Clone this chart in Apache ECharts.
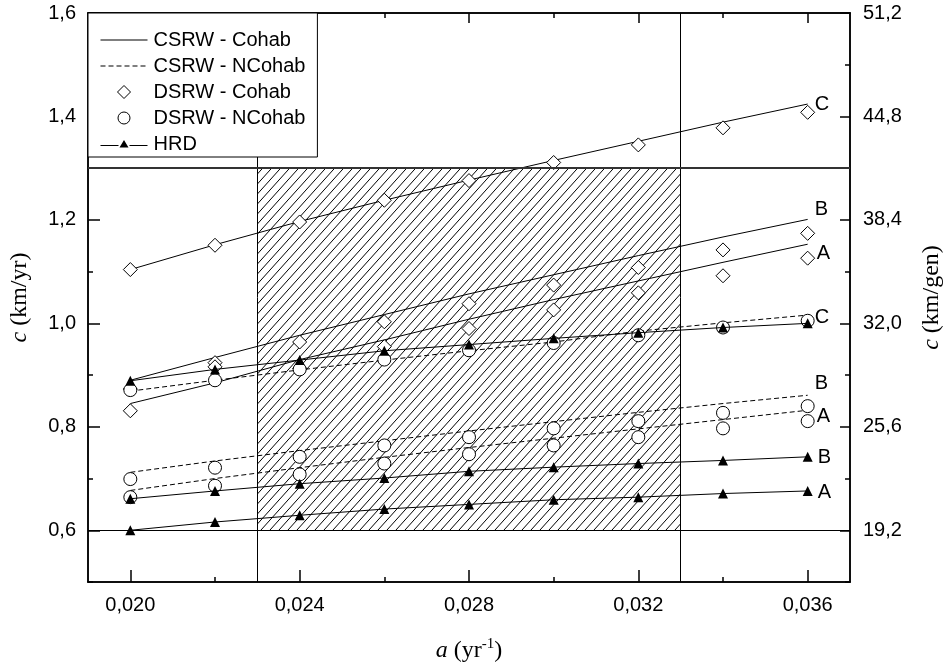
<!DOCTYPE html>
<html>
<head>
<meta charset="utf-8">
<title>Wave speed c versus a</title>
<script src="https://cdn.jsdelivr.net/npm/echarts@6/dist/echarts.min.js"></script>
<style>
  html, body { margin: 0; padding: 0; background: #fff; }
  #chart { width: 952px; height: 671px; }
</style>
</head>
<body>
<div id="chart"></div>
<script>
// Growth rate a (yr^-1) at which each model was evaluated
const aValues = [0.020, 0.022, 0.024, 0.026, 0.028, 0.030, 0.032, 0.034, 0.036];

// CSRW - Cohab (continuous curves, solid)
const csrwCohabA = [0.845, 0.885, 0.930, 0.968, 1.008, 1.046, 1.082, 1.118, 1.153];
const csrwCohabB = [0.890, 0.934, 0.977, 1.017, 1.057, 1.094, 1.131, 1.167, 1.201];
const csrwCohabC = [1.104, 1.152, 1.197, 1.238, 1.277, 1.315, 1.352, 1.389, 1.424];

// CSRW - NCohab (continuous curves, dashed)
const csrwNCohabA = [0.677, 0.700, 0.721, 0.741, 0.760, 0.778, 0.796, 0.814, 0.832];
const csrwNCohabB = [0.712, 0.734, 0.754, 0.773, 0.792, 0.810, 0.828, 0.845, 0.861];
const csrwNCohabC = [0.869, 0.890, 0.910, 0.929, 0.947, 0.964, 0.985, 1.001, 1.016];

// DSRW - Cohab (diamonds)
const dsrwCohabA = [0.831, 0.916, 0.913, 0.955, 0.990, 1.026, 1.059, 1.092, 1.126];
const dsrwCohabB = [0.873, 0.924, 0.964, 1.003, 1.038, 1.074, 1.108, 1.142, 1.174];
const dsrwCohabC = [1.104, 1.151, 1.196, 1.238, 1.276, 1.311, 1.345, 1.378, 1.408];

// DSRW - NCohab (circles)
const dsrwNCohabA = [0.664, 0.686, 0.708, 0.729, 0.747, 0.764, 0.780, 0.797, 0.811];
const dsrwNCohabB = [0.699, 0.721, 0.742, 0.764, 0.780, 0.797, 0.811, 0.827, 0.840];
const dsrwNCohabC = [0.871, 0.890, 0.911, 0.930, 0.948, 0.962, 0.977, 0.992, 1.005];

// HRD (line with filled triangles)
const hrdA = [0.600, 0.616, 0.629, 0.641, 0.650, 0.659, 0.664, 0.671, 0.676];
const hrdB = [0.661, 0.676, 0.690, 0.701, 0.714, 0.722, 0.729, 0.735, 0.742];
const hrdC = [0.889, 0.911, 0.929, 0.947, 0.959, 0.971, 0.982, 0.992, 1.000];

// Shaded range of plausible parameters
const shadedA = [0.023, 0.033];
const shadedC = [0.6, 1.3];

// Axis ranges and ticks
const xRange = [0.019, 0.037];
const xMajor = [0.020, 0.024, 0.028, 0.032, 0.036];
const xMinor = [0.022, 0.026, 0.030, 0.034];
const cRange = [0.5, 1.6];
const cMajor = [0.6, 0.8, 1.0, 1.2, 1.4, 1.6];
const cMinor = [0.5, 0.7, 0.9, 1.1, 1.3, 1.5];
const genPerYear = 32;
const genMajor = [19.2, 25.6, 32.0, 38.4, 44.8, 51.2];
const genMinor = [16.0, 22.4, 28.8, 35.2, 41.6, 48.0];

const SANS = "'Liberation Sans', Arial, sans-serif";
const SERIF = "'Liberation Serif', 'Times New Roman', serif";
const BLACK = '#000';

const pairs = ys => aValues.map((a, i) => [a, ys[i]]);
const comma = d => v => v.toFixed(d).replace('.', ',');

// Diagonal hatch used for the shaded rectangle
function hatchPattern() {
  const w = 9, h = 10;
  const c = document.createElement('canvas');
  c.width = w; c.height = h;
  const g = c.getContext('2d');
  g.strokeStyle = '#000';
  g.lineWidth = 1;
  [[0, 0], [-w, 0], [w, 0], [0, h], [0, -h]].forEach(([dx, dy]) => {
    g.beginPath();
    g.moveTo(dx, h + dy);
    g.lineTo(w + dx, dy);
    g.stroke();
  });
  return c;
}

// Legend glyphs, all laid out in a 47 x 14 box (corner moves fix the box)
const BOX = 'M0,0M47,14';
const ICON_SOLID = 'path://' + BOX + 'M0,6.5h47v1h-47z';
const ICON_DASHED = 'path://' + BOX +
  'M0,6.5h5v1h-5zM8,6.5h5v1h-5zM16,6.5h5v1h-5zM24,6.5h5v1h-5zM32,6.5h5v1h-5zM40,6.5h5v1h-5z';
const ICON_DIAMOND = 'path://' + BOX + 'M23.5,0.5L30,7L23.5,13.5L17,7Z';
const ICON_CIRCLE = 'path://' + BOX +
  'M29.5,7A6,6,0,1,1,17.5,7A6,6,0,1,1,29.5,7Z';
const ICON_HRD = 'path://' + BOX + 'M0,8h18v1h-18zM29,8h18v1h-18zM23.5,3L28,10.5L19,10.5Z';

const chart = echarts.init(document.getElementById('chart'), null, { renderer: 'canvas' });

function tickAxis(base, values, len, extra) {
  return Object.assign({
    type: 'value',
    min: base.min, max: base.max,
    position: base.position,
    axisLine: { show: true, onZero: false, lineStyle: { color: BLACK, width: 1.5 } },
    axisTick: { show: true, inside: true, length: len, customValues: values,
                lineStyle: { color: BLACK, width: 1.5 } },
    axisLabel: { show: false },
    splitLine: { show: false }
  }, extra || {});
}

const xBase = { min: xRange[0], max: xRange[1] };
const cBase = { min: cRange[0], max: cRange[1] };
const gBase = { min: cRange[0] * genPerYear, max: cRange[1] * genPerYear };

const xAxes = [
  tickAxis(Object.assign({ position: 'bottom' }, xBase), xMajor, 12, {
    axisLabel: { show: true, customValues: xMajor, formatter: comma(3),
                 fontFamily: SANS, fontSize: 20, color: BLACK, margin: 13 },
    name: '{i|a} (yr{s|-1})',
    nameLocation: 'middle',
    nameGap: 55,
    nameTextStyle: {
      fontFamily: SERIF, fontSize: 24, color: BLACK,
      rich: {
        i: { fontFamily: SERIF, fontStyle: 'italic', fontSize: 24, color: BLACK },
        s: { fontFamily: SERIF, fontSize: 15, color: BLACK, verticalAlign: 'top', padding: [0, 0, 12, 0] }
      }
    }
  }),
  tickAxis(Object.assign({ position: 'bottom' }, xBase), xMinor, 5),
  tickAxis(Object.assign({ position: 'top' }, xBase), xMajor, 10),
  tickAxis(Object.assign({ position: 'top' }, xBase), xMinor, 5)
];

const yAxes = [
  tickAxis(Object.assign({ position: 'left' }, cBase), cMajor, 12, {
    axisLabel: { show: true, customValues: cMajor, formatter: comma(1),
                 fontFamily: SANS, fontSize: 20, color: BLACK, margin: 12 },
    name: '{i|c} (km/yr)',
    nameLocation: 'middle',
    nameRotate: 90,
    nameGap: 56,
    nameTextStyle: {
      fontFamily: SERIF, fontSize: 24, color: BLACK,
      rich: { i: { fontFamily: SERIF, fontStyle: 'italic', fontSize: 24, color: BLACK } }
    }
  }),
  tickAxis(Object.assign({ position: 'left' }, cBase), cMinor, 5),
  tickAxis(Object.assign({ position: 'right' }, gBase), genMajor, 10, {
    axisLabel: { show: true, customValues: genMajor, formatter: comma(1),
                 fontFamily: SANS, fontSize: 20, color: BLACK, margin: 13 },
    name: '{i|c} (km/gen)',
    nameLocation: 'middle',
    nameRotate: 90,
    nameGap: 70,
    nameTextStyle: {
      fontFamily: SERIF, fontSize: 24, color: BLACK,
      rich: { i: { fontFamily: SERIF, fontStyle: 'italic', fontSize: 24, color: BLACK } }
    }
  }),
  tickAxis(Object.assign({ position: 'right' }, gBase), genMinor, 5)
];

const endLabel = (text, offset) => ({
  show: true, formatter: text, distance: 7, offset: offset,
  fontFamily: SANS, fontSize: 20, color: BLACK
});

function curve(name, ys, dashed, label, offset) {
  return {
    name: name, type: 'line', data: pairs(ys),
    symbol: 'none', z: 3, silent: true,
    lineStyle: { color: BLACK, width: 1, type: dashed ? [5, 3] : 'solid' },
    itemStyle: { color: BLACK },
    endLabel: endLabel(label, offset)
  };
}

function dots(name, ys, symbol, size) {
  return {
    name: name, type: 'scatter', data: pairs(ys),
    symbol: symbol, symbolSize: size, z: 4, silent: true,
    itemStyle: { color: '#fff', borderColor: BLACK, borderWidth: 1, opacity: 1 }
  };
}

function hrd(ys, label, offset) {
  const s = {
    name: 'HRD', type: 'line', data: pairs(ys),
    symbol: 'triangle', symbolSize: 10, showSymbol: true, z: 5, silent: true,
    lineStyle: { color: BLACK, width: 1 },
    itemStyle: { color: BLACK }
  };
  if (label) s.endLabel = endLabel(label, offset);
  return s;
}

const thinLine = { color: BLACK, width: 1, type: 'solid' };
const shaded = {
  type: 'line', data: [], z: 1, silent: true,
  markArea: {
    silent: true,
    itemStyle: { color: { image: hatchPattern(), repeat: 'repeat' }, borderWidth: 0 },
    data: [[{ coord: [shadedA[0], shadedC[1]] }, { coord: [shadedA[1], shadedC[0]] }]]
  },
  markLine: {
    silent: true, symbol: 'none', animation: false,
    label: { show: false },
    lineStyle: thinLine,
    data: [
      [{ coord: [shadedA[0], cRange[0]] }, { coord: [shadedA[0], cRange[1]] }],
      [{ coord: [shadedA[1], cRange[0]] }, { coord: [shadedA[1], cRange[1]] }],
      [{ coord: [xRange[0], shadedC[0]] }, { coord: [xRange[1], shadedC[0]] }],
      [{ coord: [xRange[0], shadedC[1]], lineStyle: { color: '#333', width: 2, type: 'solid' } },
       { coord: [xRange[1], shadedC[1]] }]
    ]
  }
};

const lineItem = (name, icon) => ({ name: name, icon: icon, itemStyle: { color: BLACK, borderWidth: 0 } });
const markItem = (name, icon) => ({ name: name, icon: icon,
  itemStyle: { color: '#fff', borderColor: BLACK, borderWidth: 1 } });

const option = {
  backgroundColor: '#fff',
  animation: false,
  grid: { left: 88, right: 99, top: 13, bottom: 89, containLabel: false },
  xAxis: xAxes,
  yAxis: yAxes,
  legend: {
    left: 88, top: 13, orient: 'vertical', z: 50,
    backgroundColor: '#fff', borderColor: BLACK, borderWidth: 1, borderRadius: 0,
    padding: [17, 12, 3, 12],
    itemWidth: 47, itemHeight: 14, itemGap: 6,
    selectedMode: false,
    symbolKeepAspect: true,
    textStyle: { fontFamily: SANS, fontSize: 20, color: BLACK, padding: [0, 0, 0, 1] },
    data: [
      lineItem('CSRW - Cohab', ICON_SOLID),
      lineItem('CSRW - NCohab', ICON_DASHED),
      markItem('DSRW - Cohab', ICON_DIAMOND),
      markItem('DSRW - NCohab', ICON_CIRCLE),
      lineItem('HRD', ICON_HRD)
    ]
  },
  series: [
    shaded,
    curve('CSRW - Cohab', csrwCohabC, false, 'C', [0, 0]),
    curve('CSRW - Cohab', csrwCohabB, false, 'B', [0, -10]),
    curve('CSRW - Cohab', csrwCohabA, false, 'A', [2, 9]),
    curve('CSRW - NCohab', csrwNCohabC, true, 'C', [0, 2]),
    curve('CSRW - NCohab', csrwNCohabB, true, 'B', [0, -12]),
    curve('CSRW - NCohab', csrwNCohabA, true, 'A', [2, 6]),
    dots('DSRW - Cohab', dsrwCohabC, 'diamond', 14),
    dots('DSRW - Cohab', dsrwCohabB, 'diamond', 14),
    dots('DSRW - Cohab', dsrwCohabA, 'diamond', 14),
    dots('DSRW - NCohab', dsrwNCohabC, 'circle', 13),
    dots('DSRW - NCohab', dsrwNCohabB, 'circle', 13),
    dots('DSRW - NCohab', dsrwNCohabA, 'circle', 13),
    hrd(hrdC),
    hrd(hrdB, 'B', [3, 1]),
    hrd(hrdA, 'A', [3, 2])
  ]
};

chart.setOption(option);
</script>
</body>
</html>
